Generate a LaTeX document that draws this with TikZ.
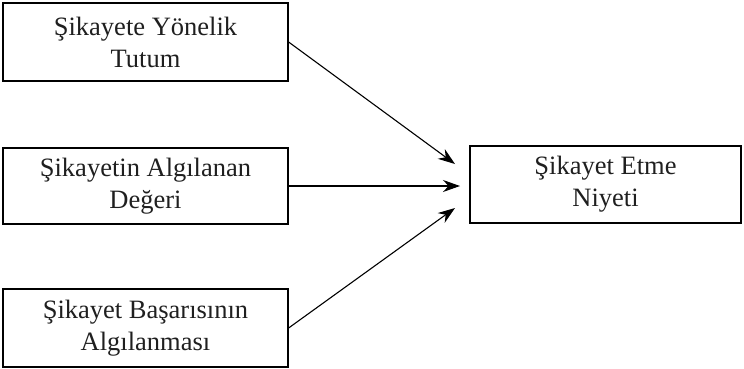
\documentclass[tikz,border=0pt]{standalone}
\usepackage{fontspec}
\setmainfont{Liberation Serif}
\usetikzlibrary{arrows.meta}
\begin{document}
\begin{tikzpicture}[x=1pt,y=-1pt,
  box/.style={draw, line width=1.2pt, inner sep=0pt, align=center,
    font=\fontsize{26.5}{32}\selectfont, text=black!88},
  conn/.style={line width=1.1pt, -{Stealth[length=17pt,width=12pt]}}]
\useasboundingbox (0,0) rectangle (744,368);
\node[box, minimum width=285pt, minimum height=78pt] (a) at (145.5,42) {Şikayete Yönelik\\Tutum};
\node[box, minimum width=285pt, minimum height=76pt] (b) at (145.5,186) {Şikayetin Algılanan\\Değeri};
\node[box, minimum width=285pt, minimum height=78pt] (c) at (145.5,328) {Şikayet Başarısının\\Algılanması};
\node[box, minimum width=271pt, minimum height=77pt] (d) at (605.5,184.5) {Şikayet Etme\\Niyeti};
\coordinate (t1) at (455,164);
\coordinate (t2) at (460,186);
\coordinate (t3) at (455,208);
\draw[conn] (a.east) -- (t1);
\draw[conn] (b.east) -- (t2);
\draw[conn] (c.east) -- (t3);
\end{tikzpicture}
\end{document}
